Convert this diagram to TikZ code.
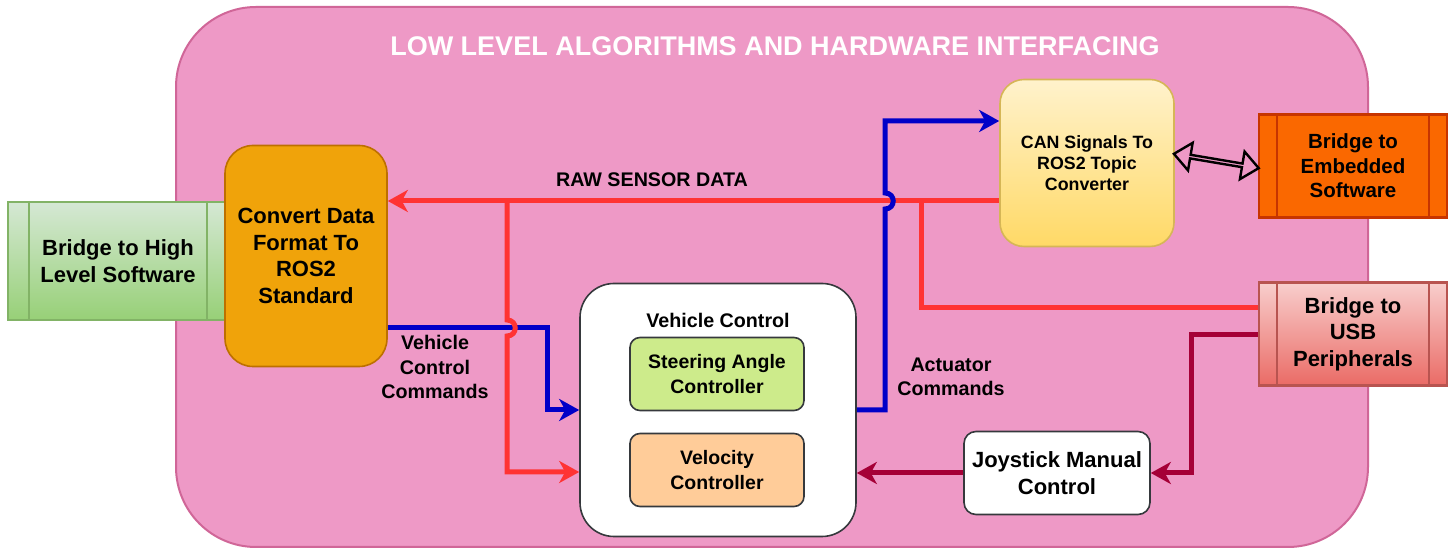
\documentclass[tikz,border=0pt]{standalone}
\usepackage{fontspec}
\setmainfont{Liberation Sans}
\usetikzlibrary{calc}
\usetikzlibrary{arrows.meta}
\usetikzlibrary{shapes.arrows}

\definecolor{panelpink}{RGB}{238,153,198}
\definecolor{panelborder}{RGB}{208,102,152}
\definecolor{rawred}{RGB}{255,51,51}
\definecolor{cmdblue}{RGB}{0,0,200}
\definecolor{joyred}{RGB}{165,0,55}
\definecolor{darkgrey}{RGB}{54,57,61}

\begin{document}
\begin{tikzpicture}[x=0.5pt, y=-0.5pt]
  \tikzstyle{block} = [draw, line width=0.8pt, align=center, inner sep=0pt, font=\bfseries\fontsize{11}{13.4}\selectfont]
  \tikzstyle{bridge} = [block, line width=1.2pt, minimum width=94pt, minimum height=51.5pt]
  \tikzstyle{inner} = [block, draw=darkgrey, rounded corners=5pt, minimum width=87pt, minimum height=36.5pt, font=\bfseries\fontsize{9.75}{12.2}\selectfont]
  \tikzstyle{lbl} = [align=center, font=\bfseries\fontsize{9.85}{12.2}\selectfont]
  \tikzstyle{flow} = [line width=2.5pt, -{Stealth[length=10pt,width=11pt,inset=3pt]}]

  \fill[white] (0,0) rectangle (1453,549);
  \useasboundingbox (0,0) rectangle (1453,549);

  \draw[panelborder, fill=panelpink, line width=1pt, rounded corners=40pt] (176,7) rectangle (1368,547);
  \node[text=white, font=\bfseries\fontsize{13.5}{15}\selectfont] (title) at (775,46) {LOW LEVEL ALGORITHMS AND HARDWARE INTERFACING};

  \node[bridge, draw={rgb,255:red,130;green,179;blue,102}, top color={rgb,255:red,213;green,232;blue,212}, bottom color={rgb,255:red,151;green,208;blue,119}, minimum width=110pt, minimum height=59pt] (hl) at (118,261) {Bridge to High\\Level Software};
  \node[block, draw={rgb,255:red,189;green,112;blue,0}, fill={rgb,255:red,240;green,163;blue,10}, rounded corners=14pt, minimum width=81pt, minimum height=110.5pt] (conv) at (306,256) {Convert Data\\Format To\\ROS2\\Standard};
  \node[block, draw={rgb,255:red,214;green,182;blue,86}, top color={rgb,255:red,255;green,242;blue,204}, bottom color={rgb,255:red,255;green,217;blue,102}, rounded corners=12pt, minimum width=87pt, minimum height=83.5pt, font=\bfseries\fontsize{8.9}{10.5}\selectfont] (can) at (1087,163) {CAN Signals To\\ROS2 Topic\\Converter};
  \node[bridge, draw={rgb,255:red,199;green,53;blue,0}, fill={rgb,255:red,250;green,104;blue,0}, font=\bfseries\fontsize{10.25}{12.25}\selectfont] (emb) at (1353,166) {Bridge to\\Embedded\\Software};
  \node[bridge, draw={rgb,255:red,184;green,84;blue,80}, top color={rgb,255:red,248;green,206;blue,204}, bottom color={rgb,255:red,234;green,107;blue,102}, font=\bfseries\fontsize{11}{13.25}\selectfont] (usb) at (1353,334) {Bridge to\\USB\\Peripherals};

  \foreach \b/\c in {hl/{rgb,255:red,130;green,179;blue,102}, emb/{rgb,255:red,199;green,53;blue,0}, usb/{rgb,255:red,184;green,84;blue,80}} {
    \draw[draw=\c, line width=1.2pt] ($(\b.north west)!.1!(\b.north east)$) -- ($(\b.south west)!.1!(\b.south east)$);
    \draw[draw=\c, line width=1.2pt] ($(\b.north west)!.9!(\b.north east)$) -- ($(\b.south west)!.9!(\b.south east)$);
  }

  \node[block, draw=darkgrey, fill=white, rounded corners=17pt, minimum width=138pt, minimum height=126.5pt] (vc) at (718,410) {};
  \node[lbl] (vctitle) at (718,320) {Vehicle Control};
  \node[inner, fill={rgb,255:red,205;green,235;blue,139}] (steer) at (717,374) {Steering Angle\\Controller};
  \node[inner, fill={rgb,255:red,255;green,204;blue,153}] (vel) at (717,470) {Velocity\\Controller};
  \node[block, draw=darkgrey, fill=white, rounded corners=6pt, minimum width=93pt, minimum height=41.5pt] (joy) at (1057,473) {Joystick Manual\\Control};

  \node[lbl] (rawlbl) at (652,180) {RAW SENSOR DATA};
  \node[lbl] (vcclbl) at (435,367) {Vehicle\\Control\\Commands};
  \node[lbl] (actlbl) at (951,377) {Actuator\\Commands};

  \draw[flow, cmdblue] (conv.east |- 0,328) -- (547,328) -- (547,410) -- (vc.west |- 0,410);

  \draw[flow, rawred] (can.west |- 0,201) -- (conv.east |- 0,201);
  \draw[flow, rawred] (507,201) -- (507,320) .. controls (518,320) and (518,336) .. (507,336) -- (507,472) -- (vc.west |- 0,472);
  \draw[rawred, line width=2.5pt] (usb.west |- 0,308) -- (921,308) -- (921,201);

  \draw[flow, cmdblue] (vc.east |- 0,410) -- (885,410) -- (885,209) .. controls (896,209) and (896,193) .. (885,193) -- (885,121) -- (can.west |- 0,121);

  \draw[flow, joyred] (usb.west |- 0,335) -- (1191,335) |- (joy.east);
  \draw[flow, joyred] (joy.west) -- (vc.east |- joy.west);

  \path ([yshift=4.5pt]can.east) -- ([yshift=-1pt]emb.west) node[midway, sloped, double arrow, draw=black, line width=1.2pt, inner sep=0pt, minimum height=43pt, minimum width=14pt, double arrow head extend=4pt, double arrow tip angle=80] (link) {};
\end{tikzpicture}
\end{document}
